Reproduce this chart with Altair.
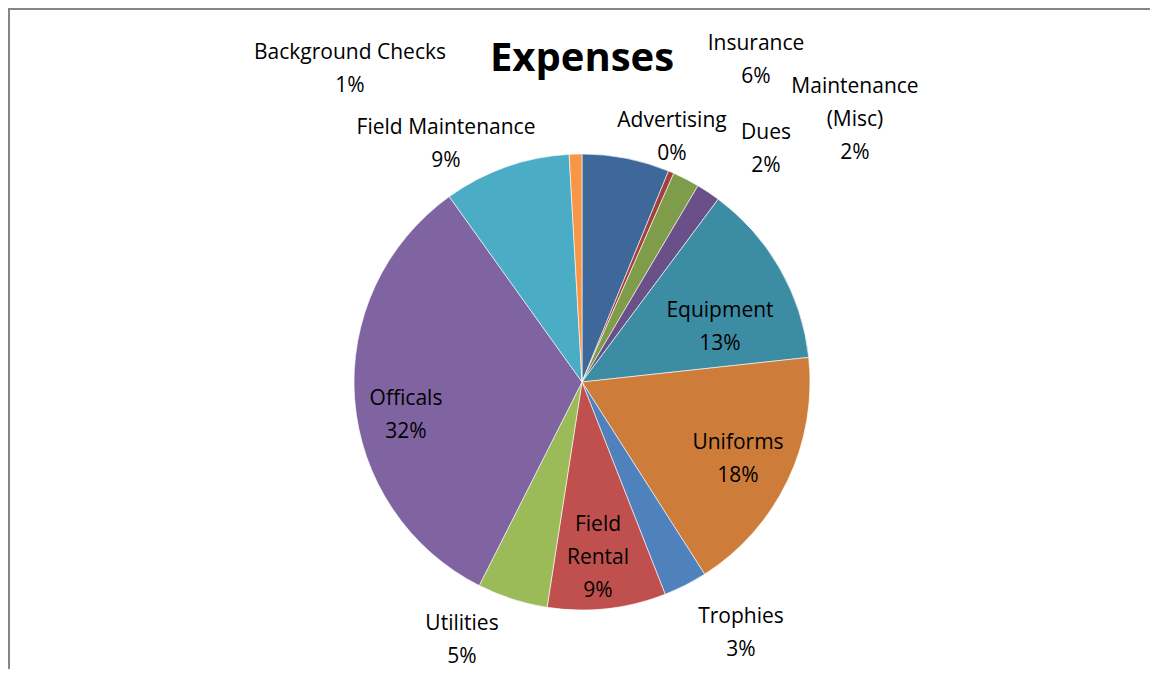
import altair as alt
import pandas as pd

# ---- data ----
categories = ["Insurance", "Advertising", "Dues", "Maintenance (Misc)", "Equipment",
              "Uniforms", "Trophies", "Field Rental", "Utilities", "Officals",
              "Field Maintenance", "Background Checks"]
values = [6.2, 0.4, 1.9, 1.7, 13.1, 17.7, 3.1, 8.4, 5.0, 32.7, 9.0, 0.9]
pct_text = ["6%", "0%", "2%", "2%", "13%", "18%", "3%", "9%", "5%", "32%", "9%", "1%"]
display_names = ["Insurance", "Advertising", "Dues", "Maintenance\n(Misc)", "Equipment",
                 "Uniforms", "Trophies", "Field\nRental", "Utilities", "Officals",
                 "Field Maintenance", "Background Checks"]

# ---- styling / layout (not data) ----
colors = ["#3F689A", "#A0413F", "#7F9C4A", "#6A5088", "#3C8CA3", "#CD7C39",
          "#4F81BD", "#C0504D", "#9BBB59", "#8064A2", "#4BACC6", "#F79646"]
# offsets of each label's first line from the pie centre, in pixels
label_dx = [174, 90, 184, 273, 138, 156, 159, 16, -120, -176, -136, -232]
label_dy = [-338, -261, -249, -295, -71, 61, 235, 143, 242, 17, -254, -329]

W, H = 1142, 661
CX, CY = 574, 374
R = 228
FONT = "Open Sans"

df = pd.DataFrame({
    "category": categories,
    "value": values,
    "idx": list(range(len(categories))),
    "label": [f"{n}\n{p}" for n, p in zip(display_names, pct_text)],
    "lx": label_dx,
    "ly": label_dy,
})

base = alt.Chart(df)

pie = base.mark_arc(outerRadius=R, stroke="#ffffff", strokeWidth=0.6).encode(
    theta=alt.Theta("value:Q", stack=True),
    color=alt.Color("category:N", scale=alt.Scale(domain=categories, range=colors), legend=None),
    order=alt.Order("idx:Q", sort="ascending"),
    x=alt.value(CX),
    y=alt.value(CY),
)

labels = base.mark_text(font=FONT, fontSize=21, lineBreak="\n", lineHeight=33,
                        align="center", baseline="middle", color="#000000").encode(
    x=alt.X("lx:Q", axis=None, scale=alt.Scale(domain=[-CX, W - CX], range=[0, W], zero=False, nice=False)),
    y=alt.Y("ly:Q", axis=None, scale=alt.Scale(domain=[-CY, H - CY], range=[0, H], zero=False, nice=False)),
    text="label:N",
)

title = alt.Chart(pd.DataFrame({"t": ["Expenses"]})).mark_text(
    font=FONT, fontSize=40, fontWeight="bold", align="center", baseline="middle", color="#000000"
).encode(text="t:N", x=alt.value(CX), y=alt.value(51))

border_top = alt.Chart(pd.DataFrame({"a": [0]})).mark_rule(color="#868686", strokeWidth=2).encode(
    x=alt.value(0), x2=alt.value(W), y=alt.value(1))
border_left = alt.Chart(pd.DataFrame({"a": [0]})).mark_rule(color="#868686", strokeWidth=2).encode(
    x=alt.value(1), y=alt.value(0), y2=alt.value(H))

chart = alt.layer(pie, labels, title, border_top, border_left).resolve_scale(
    x="independent", y="independent"
).properties(
    width=W, height=H, padding=0, autosize=alt.AutoSizeParams(type="none")
).configure_view(stroke=None)

chart.save("out.html", embed_options={"renderer": "svg", "actions": False})
